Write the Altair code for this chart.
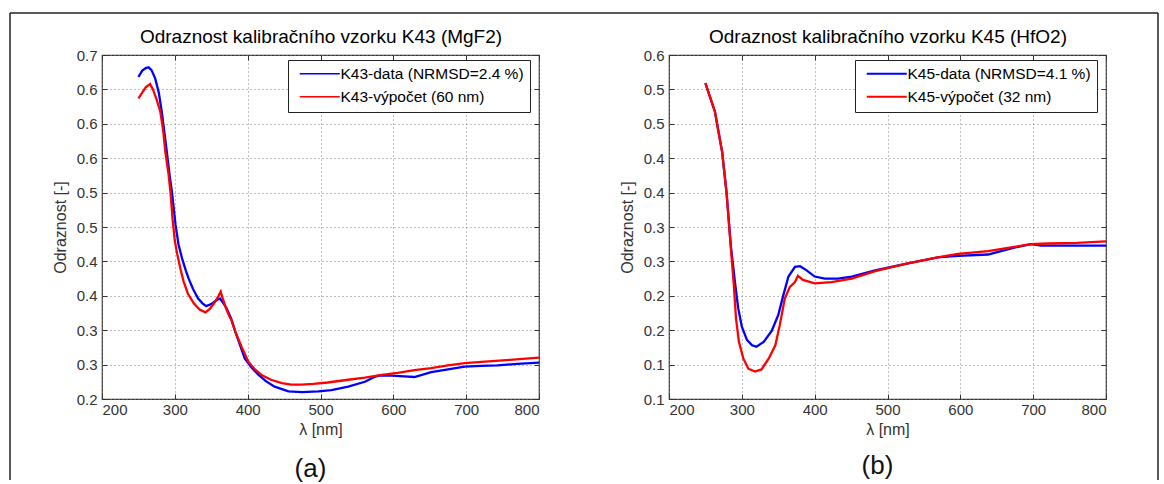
import json
import altair as alt
import pandas as pd

FONT = "Liberation Sans"

# ---------------- panel (a): K43 (MgF2) ----------------
K43_DATA_NAME = "K43-data (NRMSD=2.4 %)"
K43_CALC_NAME = "K43-výpočet (60 nm)"
K43_DATA_WL = [250, 255, 260, 264, 268, 273, 278, 282, 286, 289, 293, 296, 301, 305, 310,
               315, 319, 325, 332, 338, 343, 350, 356, 362, 366, 371, 377, 383, 390, 396,
               405, 415, 425, 437, 456, 475, 497, 515, 538, 561, 574, 580, 597, 615, 629,
               652, 675, 698, 720, 743, 770, 800]
K43_DATA_R = [0.668, 0.677, 0.681, 0.682, 0.678, 0.666, 0.645, 0.618, 0.585, 0.559, 0.524,
              0.501, 0.453, 0.425, 0.404, 0.387, 0.375, 0.360, 0.346, 0.339, 0.335, 0.338,
              0.343, 0.346, 0.340, 0.332, 0.318, 0.298, 0.277, 0.259, 0.246, 0.235, 0.226,
              0.218, 0.211, 0.210, 0.211, 0.213, 0.218, 0.225, 0.232, 0.234, 0.234, 0.233,
              0.232, 0.239, 0.243, 0.247, 0.248, 0.249, 0.251, 0.253]
K43_CALC_WL = [250, 255, 260, 266, 270, 275, 280, 284, 287, 291, 294, 297, 300, 303, 308,
               312, 318, 326, 334, 342, 348, 355, 360, 363, 366, 370, 374, 378, 383, 392,
               401, 410, 419, 432, 447, 460, 474, 490, 510, 538, 561, 584, 606, 629, 652,
               675, 698, 721, 760, 800]
K43_CALC_R = [0.637, 0.645, 0.653, 0.658, 0.650, 0.635, 0.618, 0.590, 0.559, 0.530, 0.501,
              0.460, 0.430, 0.412, 0.388, 0.371, 0.353, 0.339, 0.330, 0.326, 0.331, 0.341,
              0.350, 0.356, 0.345, 0.333, 0.322, 0.314, 0.298, 0.275, 0.254, 0.243, 0.235,
              0.228, 0.223, 0.221, 0.221, 0.222, 0.224, 0.228, 0.231, 0.235, 0.238, 0.242,
              0.245, 0.249, 0.252, 0.254, 0.257, 0.260]

# ---------------- panel (b): K45 (HfO2) ----------------
K45_DATA_NAME = "K45-data (NRMSD=4.1 %)"
K45_CALC_NAME = "K45-výpočet (32 nm)"
K45_DATA_WL = [250, 256, 263, 268, 273, 279, 285, 291, 295, 300, 307, 314, 320, 330, 341,
               350, 357, 364, 373, 380, 389, 400, 414, 432, 451, 483, 528, 569, 597, 638,
               652, 674, 697, 711, 750, 800]
K45_DATA_R = [0.559, 0.540, 0.518, 0.488, 0.459, 0.400, 0.322, 0.266, 0.232, 0.205, 0.186,
              0.178, 0.176, 0.183, 0.199, 0.222, 0.251, 0.278, 0.292, 0.293, 0.287, 0.278,
              0.275, 0.275, 0.278, 0.287, 0.297, 0.306, 0.308, 0.310, 0.314, 0.320, 0.325,
              0.323, 0.323, 0.323]
K45_CALC_WL = [250, 256, 263, 268, 273, 279, 285, 289, 292, 296, 302, 309, 318, 327, 337,
               346, 352, 359, 366, 373, 377, 384, 400, 423, 451, 483, 528, 569, 597, 638,
               674, 697, 720, 760, 800]
K45_CALC_R = [0.559, 0.540, 0.518, 0.488, 0.459, 0.400, 0.318, 0.266, 0.217, 0.183, 0.159,
              0.144, 0.140, 0.143, 0.159, 0.178, 0.207, 0.246, 0.263, 0.270, 0.279, 0.273,
              0.268, 0.270, 0.275, 0.286, 0.297, 0.306, 0.311, 0.315, 0.321, 0.325, 0.326,
              0.327, 0.329]

# ---------------- axes ----------------
X_TICKS = [200, 300, 400, 500, 600, 700, 800]
A_Y_TICKS = [0.2, 0.25, 0.3, 0.35, 0.4, 0.45, 0.5, 0.55, 0.6, 0.65, 0.7]
A_Y_LABELS = ["0.2", "0.3", "0.3", "0.4", "0.4", "0.5", "0.5", "0.6", "0.6", "0.6", "0.7"]
B_Y_TICKS = [0.1, 0.15, 0.2, 0.25, 0.3, 0.35, 0.4, 0.45, 0.5, 0.55, 0.6]
B_Y_LABELS = ["0.1", "0.1", "0.2", "0.2", "0.3", "0.3", "0.4", "0.4", "0.5", "0.5", "0.6"]

PANEL_W = 437
PANEL_H = 344
# legend line glyph: a 40 px horizontal stroke drawn from a small symbol size
LEGEND_GLYPH = "M-1,0L19,0"


def make_df(wl1, r1, n1, wl2, r2, n2):
    a = pd.DataFrame({"wl": wl1, "r": r1, "series": n1})
    b = pd.DataFrame({"wl": wl2, "r": r2, "series": n2})
    return pd.concat([a, b], ignore_index=True)


def panel(df, names, title, sub, yticks, ylabels, sym_w, sub_offset, frame=False):
    step = yticks[1] - yticks[0]
    label_expr = f"{json.dumps(ylabels)}[round((datum.value - {yticks[0]}) / {step:.2f})]"
    xscale = alt.Scale(domain=[200, 800], nice=False)
    yscale = alt.Scale(domain=[yticks[0], yticks[-1]], nice=False, zero=False)
    lines = alt.Chart(df).mark_line(strokeWidth=2.3, clip=True).encode(
        x=alt.X("wl:Q", scale=xscale,
                axis=alt.Axis(values=X_TICKS, format="d", title="λ [nm]", offset=-5,
                              domain=False, tickSize=5, labelPadding=3, titlePadding=4,
                              grid=True)),
        y=alt.Y("r:Q", scale=yscale,
                axis=alt.Axis(values=yticks, labelExpr=label_expr, title="Odraznost [-]",
                              offset=-5, domain=False, tickSize=5, labelPadding=5,
                              titlePadding=8, grid=True)),
        color=alt.Color("series:N",
                        scale=alt.Scale(domain=names, range=["#0000ff", "#ff0000"]),
                        legend=alt.Legend(title=None, orient="none", legendX=186, legendY=5,
                                          symbolType=LEGEND_GLYPH, symbolSize=16,
                                          symbolStrokeWidth=sym_w, symbolFillColor="transparent",
                                          labelOffset=31, labelFontSize=15.5,
                                          labelFont=FONT, labelColor="#000",
                                          strokeColor="#222", fillColor="white",
                                          padding=6, rowPadding=6, labelLimit=400)),
    )
    ghost = alt.Chart(df).mark_line(opacity=0).encode(
        x=alt.X("wl:Q", scale=xscale,
                axis=alt.Axis(orient="top", values=X_TICKS, labels=False, grid=False,
                              domain=False, tickSize=5, offset=-5, title=title,
                              titleFontSize=19, titleColor="#000", titlePadding=8)),
        y=alt.Y("r:Q", scale=yscale,
                axis=alt.Axis(orient="right", values=yticks, labels=False, grid=False,
                              domain=False, tickSize=5, offset=-5, title=None)),
        detail="series:N",
    )
    layers = [lines, ghost]
    if frame:
        one = alt.Data(values=[{"k": 1}])
        layers.append(alt.Chart(one).mark_rule(color="#222", strokeWidth=1.5).encode(
            x=alt.value(-92), x2=alt.value(1056), y=alt.value(-42)))
        layers.append(alt.Chart(one).mark_rule(color="#222", strokeWidth=1.5).encode(
            x=alt.value(-92), y=alt.value(-42), y2=alt.value(425)))
        layers.append(alt.Chart(one).mark_rule(color="#222", strokeWidth=1.5).encode(
            x=alt.value(1056), y=alt.value(-42), y2=alt.value(425)))
    return alt.layer(*layers).resolve_axis(x="independent", y="independent").properties(
        width=PANEL_W, height=PANEL_H,
        title=alt.TitleParams(sub, orient="bottom", fontSize=26, fontWeight="normal",
                              color="#111", offset=sub_offset, dx=-10, font=FONT),
    )


df_a = make_df(K43_DATA_WL, K43_DATA_R, K43_DATA_NAME, K43_CALC_WL, K43_CALC_R, K43_CALC_NAME)
df_b = make_df(K45_DATA_WL, K45_DATA_R, K45_DATA_NAME, K45_CALC_WL, K45_CALC_R, K45_CALC_NAME)

left = panel(df_a, [K43_DATA_NAME, K43_CALC_NAME], "Odraznost kalibračního vzorku K43 (MgF2)",
             "(a)", A_Y_TICKS, A_Y_LABELS, 1.5, -25, frame=True)
right = panel(df_b, [K45_DATA_NAME, K45_CALC_NAME], "Odraznost kalibračního vzorku K45 (HfO2)",
              "(b)", B_Y_TICKS, B_Y_LABELS, 2.2, 16)

chart = alt.hconcat(left, right, spacing=130, bounds="flush").resolve_scale(
    color="independent"
).properties(
    padding={"left": 8, "top": 11, "right": 0, "bottom": 0},
    background="white",
).configure_view(
    stroke="#333", strokeWidth=1.2
).configure_axis(
    labelFont=FONT, labelFontSize=15, labelColor="#333",
    titleFont=FONT, titleFontSize=16, titleFontWeight="normal", titleColor="#333",
    gridColor="#808080", gridDash=[1, 3], gridWidth=1, gridOpacity=1,
    tickColor="#333", tickWidth=1,
).configure_title(font=FONT)

chart.save("out.html", embed_options={"renderer": "svg", "actions": False})
